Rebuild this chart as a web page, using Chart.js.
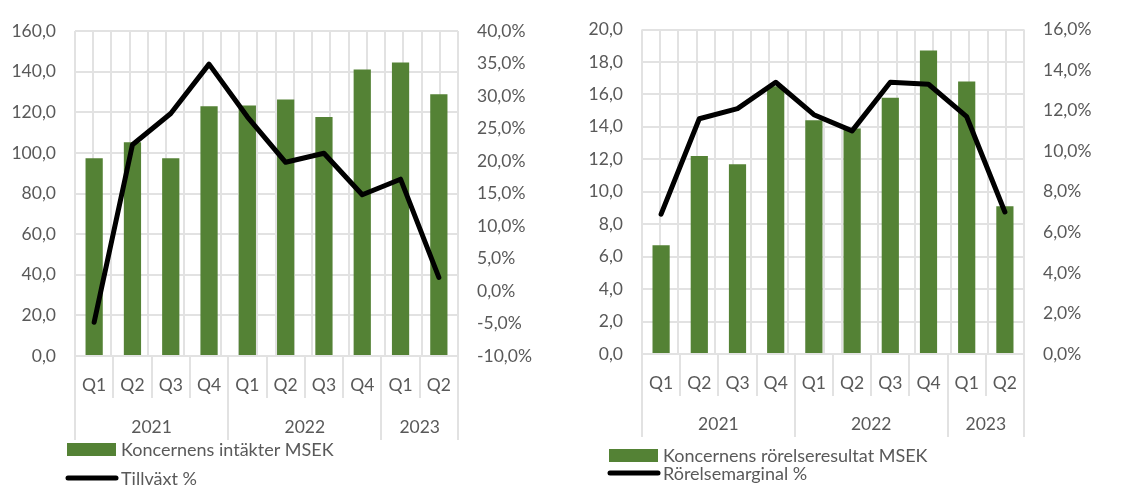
<!DOCTYPE html>
<html>
<head>
<meta charset="utf-8">
<script src="https://cdn.jsdelivr.net/npm/chart.js@4"></script>
<style>
  html, body { margin: 0; padding: 0; background: #fff; }
  .wrap { position: absolute; top: 0; width: 565px; height: 490px; }
  #w1 { left: 0; }
  #w2 { left: 565px; }
</style>
</head>
<body>
<div class="wrap" id="w1"><canvas id="c1"></canvas></div>
<div class="wrap" id="w2"><canvas id="c2"></canvas></div>
<script>
// Kategorier
const quarters = ['Q1', 'Q2', 'Q3', 'Q4', 'Q1', 'Q2', 'Q3', 'Q4', 'Q1', 'Q2'];
const years = ['2021', '2022', '2023'];
const yearLengths = [4, 4, 2];

// Diagram 1 : intäkter och tillväxt
const intakter = [97.3, 105.2, 97.3, 123.0, 123.3, 126.3, 117.7, 141.0, 144.5, 128.9];
const tillvaxt = [-4.8, 22.5, 27.3, 34.9, 26.8, 19.8, 21.2, 14.8, 17.2, 2.1];

// Diagram 2 : rörelseresultat och marginal
const resultat = [6.7, 12.2, 11.7, 16.5, 14.4, 13.9, 15.8, 18.7, 16.8, 9.1];
const marginal = [6.9, 11.6, 12.1, 13.4, 11.8, 11.0, 13.4, 13.3, 11.7, 7.0];

const green = '#548235';
const gridColor = '#e2e2e2';
const textColor = '#595959';
const fontFamily = 'Lato, "Open Sans", sans-serif';

Chart.defaults.font.family = fontFamily;
Chart.defaults.font.size = 17.5;
Chart.defaults.color = textColor;
Chart.defaults.animation = false;

const comma = (v, d) => v.toFixed(d).replace('.', ',');

// Tvånivås x-axel + legend, ritas av ett plugin
const groupAxis = {
    id: 'groupAxis',
    afterDraw(chart, args, opts) {
        const { ctx, chartArea } = chart;
        const x = chart.scales.x;
        const top = chartArea.bottom;
        ctx.save();
        ctx.strokeStyle = gridColor;
        ctx.lineWidth = 2;
        // avgränsare
        const yearEnds = [0];
        yearLengths.reduce((s, n) => { yearEnds.push(s + n); return s + n; }, 0);
        for (let i = 0; i <= quarters.length; i++) {
            const px = Math.round(x.getPixelForValue(i - 0.5));
            const bottom = yearEnds.includes(i) ? top + opts.yearLine : top + opts.qLine;
            ctx.beginPath();
            ctx.moveTo(px, top);
            ctx.lineTo(px, bottom);
            ctx.stroke();
        }
        ctx.fillStyle = textColor;
        ctx.font = '17.5px ' + fontFamily;
        ctx.textAlign = 'center';
        ctx.textBaseline = 'middle';
        quarters.forEach((q, i) => {
            ctx.fillText(q, x.getPixelForValue(i), top + opts.qText);
        });
        let start = 0;
        years.forEach((y, i) => {
            const mid = start + (yearLengths[i] - 1) / 2;
            ctx.fillText(y, x.getPixelForValue(mid), top + opts.yearText);
            start += yearLengths[i];
        });
        // legend
        const lg = opts.legend;
        ctx.fillStyle = green;
        ctx.fillRect(lg.x, lg.y1 - 6.5, 49, 13);
        ctx.strokeStyle = '#000';
        ctx.lineWidth = 5;
        ctx.lineCap = 'round';
        ctx.beginPath();
        ctx.moveTo(lg.x + 1, lg.y2);
        ctx.lineTo(lg.x + 49, lg.y2);
        ctx.stroke();
        ctx.fillStyle = textColor;
        ctx.font = '18px ' + fontFamily;
        ctx.textAlign = 'left';
        ctx.fillText(lg.bar, lg.x + 54, lg.y1 + 1);
        ctx.fillText(lg.line, lg.x + 54, lg.y2 + 1);
        ctx.restore();
    }
};

function makeChart(id, bars, line, cfg) {
    return new Chart(document.getElementById(id), {
        type: 'bar',
        data: {
            labels: quarters,
            datasets: [{
                type: 'line',
                data: line,
                yAxisID: 'y1',
                borderColor: '#000',
                borderWidth: 5,
                pointRadius: 0,
                tension: 0,
                borderJoinStyle: 'round',
                borderCapStyle: 'round',
                order: 1
            }, {
                data: bars,
                yAxisID: 'y',
                backgroundColor: green,
                barPercentage: 0.45,
                categoryPercentage: 1,
                order: 2
            }]
        },
        options: {
            responsive: true,
            maintainAspectRatio: false,
            layout: { padding: { top: cfg.top, bottom: cfg.bottom } },
            plugins: {
                legend: { display: false },
                tooltip: { enabled: false },
                groupAxis: cfg.axis
            },
            scales: {
                x: { display: false },
                xg: {
                    type: 'linear',
                    position: 'bottom',
                    min: -0.5,
                    max: 9.5,
                    ticks: { display: false, stepSize: 0.5 },
                    grid: { color: gridColor, lineWidth: 2, drawTicks: false },
                    border: { display: false },
                    afterFit: s => { s.height = 0; }
                },
                y: {
                    position: 'left',
                    min: 0,
                    max: cfg.yMax,
                    ticks: { stepSize: cfg.yStep, padding: 19, callback: v => comma(v, 1) },
                    grid: { color: gridColor, lineWidth: 2, drawTicks: false },
                    border: { display: false },
                    afterFit: s => { s.width = cfg.leftW; }
                },
                y1: {
                    position: 'right',
                    min: cfg.y1Min,
                    max: cfg.y1Max,
                    ticks: { stepSize: cfg.y1Step, padding: 19, callback: v => comma(v, 1) + '%' },
                    grid: { display: false, drawTicks: false },
                    border: { display: false },
                    afterFit: s => { s.width = cfg.rightW; }
                }
            }
        },
        plugins: [groupAxis]
    });
}

makeChart('c1', intakter, tillvaxt, {
    top: 31, bottom: 134, leftW: 75, rightW: 107,
    yMax: 160, yStep: 20, y1Min: -10, y1Max: 40, y1Step: 5,
    axis: {
        qLine: 42, yearLine: 84, qText: 29, yearText: 71,
        legend: { x: 67, y1: 449.5, y2: 478, bar: 'Koncernens intäkter MSEK', line: 'Tillväxt %' }
    }
});

makeChart('c2', resultat, marginal, {
    top: 23, bottom: 136, leftW: 77, rightW: 106,
    yMax: 20, yStep: 2, y1Min: 0, y1Max: 16, y1Step: 2,
    axis: {
        qLine: 42, yearLine: 83, qText: 29, yearText: 70,
        legend: { x: 44, y1: 455.5, y2: 473, bar: 'Koncernens rörelseresultat MSEK', line: 'Rörelsemarginal %' }
    }
});
</script>
</body>
</html>
